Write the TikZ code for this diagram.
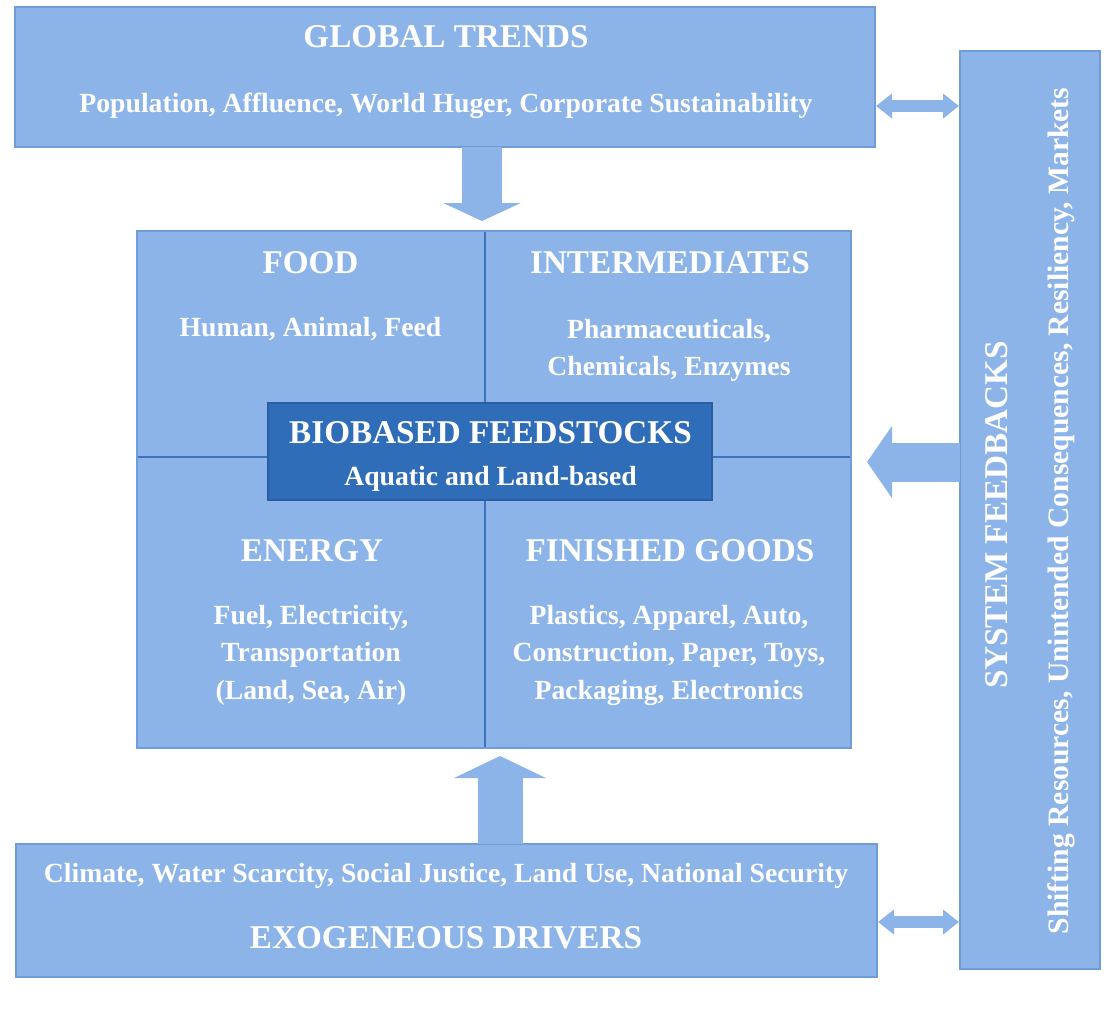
\documentclass[tikz,border=0pt]{standalone}
\usepackage{fontspec}
\setmainfont{Liberation Serif}
\usetikzlibrary{arrows.meta,calc}
\definecolor{boxblue}{HTML}{8DB4E8}
\definecolor{edgeblue}{HTML}{6F9DDA}
\definecolor{darkblue}{HTML}{2F6DB9}
\definecolor{darkedge}{HTML}{2A5DA3}
\definecolor{divblue}{HTML}{3F72BC}
\begin{document}
\begin{tikzpicture}[x=1pt,y=-1pt,
  box/.style={fill=boxblue,draw=edgeblue,line width=1.5pt,inner sep=0pt,outer sep=0pt},
  quad/.style={fill=boxblue,draw=none,inner sep=0pt,outer sep=0pt},
  corebox/.style={fill=darkblue,draw=darkedge,line width=1.5pt,inner sep=0pt,outer sep=0pt},
  ttl/.style={text=white,font=\bfseries\fontsize{33.2}{38}\selectfont,inner sep=0pt,outer sep=0pt},
  sub/.style={text=white,font=\bfseries\fontsize{27.7}{37.5}\selectfont,inner sep=0pt,outer sep=0pt,align=center},
  divider/.style={draw=divblue,line width=1.6pt},
  fatdown/.style={draw=boxblue,line width=40pt,-{Triangle[length=18pt,width=77pt]}},
  fatup/.style={draw=boxblue,line width=45pt,-{Triangle[length=22pt,width=91pt]}},
  fatleft/.style={draw=boxblue,line width=39pt,-{Triangle[length=25pt,width=71pt]}},
  twoway/.style={draw=boxblue,line width=12pt,{Triangle[length=16pt,width=24pt]}-{Triangle[length=16pt,width=24pt]}}
]
\useasboundingbox (0,0) rectangle (1107,1009);
\fill[white] (0,0) rectangle (1107,1009);

% outer boxes
\node[box,minimum width=860pt,minimum height=140pt] (global) at (445,77) {};
\node[box,minimum width=140pt,minimum height=918pt] (right) at (1030,510) {};
\node[box,minimum width=861pt,minimum height=133pt] (exo) at (446.5,910.5) {};

% quadrants
\node[quad,minimum width=348pt,minimum height=226pt] (food) at (311,344) {};
\node[quad,minimum width=366pt,minimum height=226pt] (inter) at (668,344) {};
\node[quad,minimum width=348pt,minimum height=291pt] (energy) at (311,602.5) {};
\node[quad,minimum width=366pt,minimum height=291pt] (finished) at (668,602.5) {};
\draw[divider] (food.north east) -- (finished.south west);
\draw[divider] (food.south west) -- (inter.south east);
\draw[draw=edgeblue,line width=1.5pt] (food.north west) rectangle (finished.south east);

% core box
\node[corebox,minimum width=444pt,minimum height=97pt] (core) at (490,451.5) {};

% arrows
\coordinate (dA) at ($(global.south)+(37,0)$);
\coordinate (dB) at ($(food.north east)+(-3,-10)$);
\draw[fatdown] (dA) -- (dB);
\coordinate (uA) at ($(exo.north)+(53.5,0)$);
\coordinate (uB) at ($(finished.south west)+(15,8)$);
\draw[fatup] (uA) -- (uB);
\coordinate (lA) at ($(right.west)+(0,-48)$);
\coordinate (lB) at ($(finished.north east)+(16,5)$);
\draw[fatleft] (lA) -- (lB);
\coordinate (tA) at ($(global.east)+(1,29)$);
\coordinate (tB) at ($(right.west)+(-1,-404)$);
\draw[twoway] (tA) -- (tB);
\coordinate (bA) at ($(exo.east)+(1,11.5)$);
\coordinate (bB) at ($(right.west)+(-1,412)$);
\draw[twoway] (bA) -- (bB);

% texts
\node[ttl,anchor=base] (globalT) at (446,47) {GLOBAL TRENDS};
\node[sub,anchor=base] (globalS) at (446,112) {Population, Affluence, World Huger, Corporate Sustainability};

\node[ttl,anchor=base] (foodT) at (310.5,273) {FOOD};
\node[sub,anchor=base] (foodS) at (310.5,336) {Human, Animal, Feed};

\node[ttl,anchor=base] (interT) at (670,273) {INTERMEDIATES};
\node[sub,anchor=north] (interS) at (669,319) {Pharmaceuticals,\\Chemicals, Enzymes};

\node[ttl,anchor=base] (coreT) at (490.5,443) {BIOBASED FEEDSTOCKS};
\node[sub,anchor=base] (coreS) at (490.5,485) {Aquatic and Land-based};

\node[ttl,anchor=base] (energyT) at (312,561) {ENERGY};
\node[sub,anchor=north] (energyS) at (311,605) {Fuel, Electricity,\\Transportation\\(Land, Sea, Air)};

\node[ttl,anchor=base] (finT) at (670,561) {FINISHED GOODS};
\node[sub,anchor=north] (finS) at (669,605) {Plastics, Apparel, Auto,\\Construction, Paper, Toys,\\Packaging, Electronics};

\node[sub,anchor=base] (exoS) at (446,882) {Climate, Water Scarcity, Social Justice, Land Use, National Security};
\node[ttl,anchor=base] (exoT) at (446,948) {EXOGENEOUS DRIVERS};

\node[ttl,rotate=90] (rightT) at (996.5,515) {SYSTEM FEEDBACKS};
\node[sub,rotate=90,font=\bfseries\fontsize{29.6}{34}\selectfont] (rightS) at (1061,511) {Shifting Resources, Unintended Consequences, Resiliency, Markets};
\end{tikzpicture}
\end{document}
